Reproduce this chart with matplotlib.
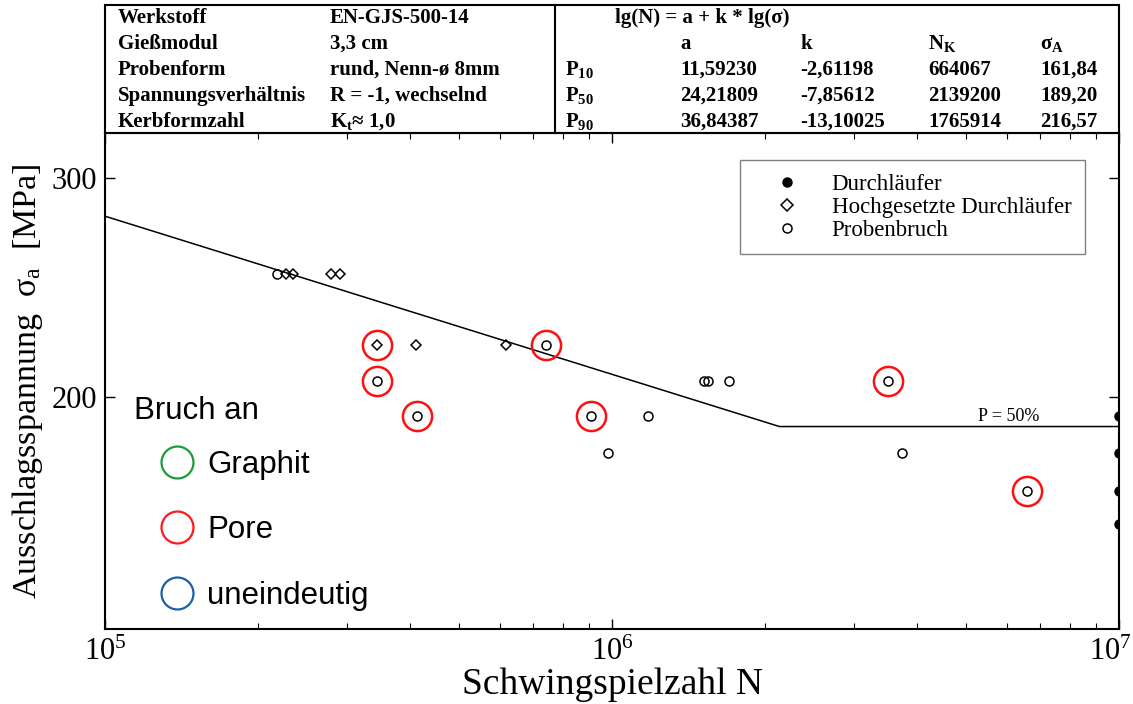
import matplotlib
matplotlib.use("Agg")
import matplotlib.pyplot as plt
from matplotlib.lines import Line2D
from matplotlib.patches import Rectangle
from matplotlib.transforms import ScaledTranslation
from matplotlib.ticker import FixedLocator, FixedFormatter, NullLocator

plt.rcParams['font.family'] = ['Liberation Serif', 'DejaVu Serif']
plt.rcParams['mathtext.fontset'] = 'custom'
plt.rcParams['mathtext.rm'] = 'Liberation Serif'
plt.rcParams['mathtext.it'] = 'Liberation Serif:italic'
plt.rcParams['mathtext.bf'] = 'Liberation Serif:bold'

# Versuchsdaten (N, sigma_a in MPa)
bruch_N = [2.18e5, 7.42e5, 3.44e5, 1.52e6, 1.55e6, 1.70e6, 3.50e6,
           4.13e5, 9.11e5, 1.18e6, 9.80e5, 3.73e6, 6.58e6]
bruch_S = [251, 220, 206, 206, 206, 206, 206, 193, 193, 193, 180, 180, 168]

hoch_N = [2.27e5, 2.35e5, 2.79e5, 2.91e5, 3.44e5, 4.11e5, 6.19e5]
hoch_S = [251, 251, 251, 251, 220, 220, 220]

durch_N = [1e7, 1e7, 1e7, 1e7]
durch_S = [193, 180, 168, 158]

# Bruchursache Pore (rot markiert)
pore_N = [3.44e5, 7.42e5, 3.44e5, 4.13e5, 9.11e5, 3.50e6, 6.58e6]
pore_S = [220, 220, 206, 193, 193, 206, 168]

# Kenngroessen der Woehlerlinie
werkstoff_keys = ["Werkstoff", "Gießmodul", "Probenform",
                  "Spannungsverhältnis", "Kerbformzahl"]
werkstoff_vals = ["EN-GJS-500-14", "3,3 cm", "rund, Nenn-ø 8mm",
                  "R = -1, wechselnd", r"K$_\mathbf{t}$≈ 1,0"]
p_labels = [r"P$_\mathbf{10}$", r"P$_\mathbf{50}$", r"P$_\mathbf{90}$"]
a_vals = [11.59230, 24.21809, 36.84387]
k_vals = [-2.61198, -7.85612, -13.10025]
nk_vals = [664067, 2139200, 1765914]
sa_vals = [161.84, 189.20, 216.57]

N_MIN, N_MAX = 1e5, 1e7
S_MIN, S_MAX = 130, 326

W, H = 1133, 704
AX_L, AX_R, AX_T, AX_B = 105, 1119, 133, 629


def fx(px):
    return px / W


def fy(py):
    return 1 - py / H


def ax_x(px):
    return (px - AX_L) / (AX_R - AX_L)


def ax_y(py):
    return (AX_B - py) / (AX_B - AX_T)


def de(v, nd):
    return f"{v:.{nd}f}".replace(".", ",")


# P50-Linie aus a, k, N_K, sigma_A
a50, k50, nk50, sa50 = a_vals[1], k_vals[1], nk_vals[1], sa_vals[1]
s_start = 10 ** ((5 - a50) / k50)
line_N = [N_MIN, nk50, N_MAX]
line_S = [s_start, sa50, sa50]

fig = plt.figure(figsize=(W / 100, H / 100), dpi=100)
ax = fig.add_axes([fx(AX_L), fy(AX_B), fx(AX_R) - fx(AX_L), fy(AX_T) - fy(AX_B)])
ax.set_xscale('log')
ax.set_yscale('log')
ax.set_xlim(N_MIN, N_MAX)
ax.set_ylim(S_MIN, S_MAX)

ax.plot(line_N, line_S, color='black', lw=1.1, zorder=2)
ax.text(ax_x(1009), ax_y(421), "P = 50%", transform=ax.transAxes,
        fontsize=13, ha='center', va='baseline')

ax.plot(bruch_N, bruch_S, 'o', ms=6.5, mfc='none', mec='black', mew=1.1,
        ls='none', zorder=3)
ax.plot(hoch_N, hoch_S, 'D', ms=5.6, mfc='none', mec='black', mew=1.1,
        ls='none', zorder=3)
ax.plot(durch_N, durch_S, 'o', ms=6.5, color='black', ls='none', zorder=3)
ax.plot(pore_N, pore_S, 'o', ms=21, mfc='none', mec='#ff1010', mew=1.8,
        ls='none', zorder=4)

# Achsen
for sp in ax.spines.values():
    sp.set_linewidth(1.5)
ax.xaxis.set_major_locator(FixedLocator([1e5, 1e6, 1e7]))
ax.yaxis.set_major_locator(FixedLocator([200, 300]))
ax.yaxis.set_major_formatter(FixedFormatter(["200", "300"]))
ax.yaxis.set_minor_locator(NullLocator())
ax.tick_params(which='both', direction='in', top=True, right=True,
               labelsize=22, pad=6)
ax.tick_params(which='major', length=7, width=1)
ax.tick_params(which='minor', length=4, width=0.8)

# letzte Beschriftung etwas nach links, damit sie im Bild bleibt
shift = ScaledTranslation(-9 / 100, 0, fig.dpi_scale_trans)
for tick, loc in zip(ax.xaxis.get_major_ticks(), ax.xaxis.get_majorticklocs()):
    if loc == N_MAX:
        tick.label1.set_transform(tick.label1.get_transform() + shift)

ax.set_xlabel("Schwingspielzahl N", fontsize=27)
ax.xaxis.set_label_coords(0.5, ax_y(667))
ax.set_ylabel(r"Ausschlagsspannung  σ$_\mathrm{a}$  [MPa]", fontsize=24.5)
ax.yaxis.set_label_coords(ax_x(45), 0.5)

# Legende Probenart
handles = [
    Line2D([], [], marker='o', ls='none', color='black', ms=6.5),
    Line2D([], [], marker='D', ls='none', mfc='none', mec='black', ms=6, mew=1.1),
    Line2D([], [], marker='o', ls='none', mfc='none', mec='black', ms=6.5, mew=1.1),
]
leg = ax.legend(handles, ["Durchläufer", "Hochgesetzte Durchläufer", "Probenbruch"],
                loc='upper left', bbox_to_anchor=(ax_x(740), ax_y(160)),
                borderaxespad=0, fontsize=16.5, frameon=True, fancybox=False,
                edgecolor='#808080', framealpha=1, borderpad=0.6,
                handlelength=2.9, handletextpad=0.5, labelspacing=0.08, numpoints=1)
leg.get_frame().set_linewidth(1.0)
ax.add_artist(leg)

# Legende Bruchursache
ax.text(ax_x(134), ax_y(411), "Bruch an", transform=ax.transAxes,
        fontsize=22.5, family='Liberation Sans', ha='left', va='center')
cause_colors = ['#1a9c3a', '#ff1a1a', '#1a5fa8']
cause_labels = ["Graphit", "Pore", "uneindeutig"]
h2 = [Line2D([], [], marker='o', ls='none', mfc='none', mec=c, ms=23, mew=1.6)
      for c in cause_colors]
leg2 = ax.legend(h2, cause_labels, loc='upper left',
                 bbox_to_anchor=(ax_x(157), ax_y(450)),
                 borderaxespad=0, borderpad=0, frameon=False, numpoints=1,
                 prop={'family': 'Liberation Sans', 'size': 22.5},
                 handlelength=1.3, handletextpad=0.31, labelspacing=1.13)

# Tabelle oberhalb des Diagramms
fig.add_artist(Rectangle((fx(AX_L), fy(AX_T)), fx(AX_R) - fx(AX_L), fy(5) - fy(AX_T),
                         transform=fig.transFigure, fill=False, lw=1.5,
                         edgecolor='black'))
fig.add_artist(Line2D([fx(555), fx(555)], [fy(5), fy(AX_T)],
                      transform=fig.transFigure, color='black', lw=1.5))

rows_y = [18, 44, 70, 96, 122]
tkw = dict(fontsize=15, fontweight='bold', va='center', ha='left')
for i, (key, val) in enumerate(zip(werkstoff_keys, werkstoff_vals)):
    fig.text(fx(118), fy(rows_y[i]), key, **tkw)
    fig.text(fx(330), fy(rows_y[i]), val, **tkw)

col_x = [680, 800, 928, 1040]
fig.text(fx(615), fy(rows_y[0]), "lg(N) = a + k * lg(σ)", **tkw)
for x, head in zip(col_x, ["a", "k", r"N$_\mathbf{K}$", r"σ$_\mathbf{A}$"]):
    fig.text(fx(x), fy(rows_y[1]), head, **tkw)
for i in range(3):
    y = fy(rows_y[i + 2])
    fig.text(fx(565), y, p_labels[i], **tkw)
    fig.text(fx(col_x[0]), y, de(a_vals[i], 5), **tkw)
    fig.text(fx(col_x[1]), y, de(k_vals[i], 5), **tkw)
    fig.text(fx(col_x[2]), y, str(nk_vals[i]), **tkw)
    fig.text(fx(col_x[3]), y, de(sa_vals[i], 2), **tkw)

fig.savefig("out.png", dpi=100, facecolor='white')
